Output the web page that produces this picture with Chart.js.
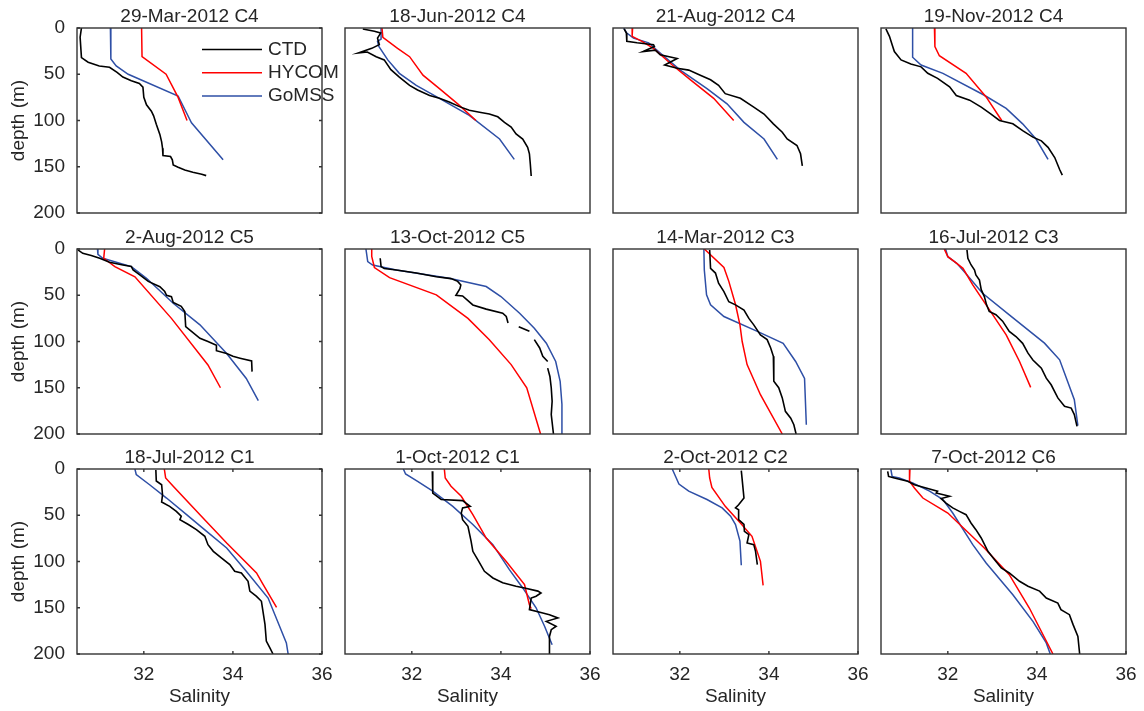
<!DOCTYPE html>
<html>
<head>
<meta charset="utf-8">
<script src="https://cdn.jsdelivr.net/npm/chart.js@4"></script>
<style>
  html, body { margin: 0; padding: 0; background: #fff; }
  #wrap { position: relative; width: 1144px; height: 711px; overflow: hidden; }
  #wrap canvas { position: absolute; }
</style>
</head>
<body>
<div id="wrap"></div>
<script>
const titles = ['29-Mar-2012 C4', '18-Jun-2012 C4', '21-Aug-2012 C4', '19-Nov-2012 C4',
                '2-Aug-2012 C5', '13-Oct-2012 C5', '14-Mar-2012 C3', '16-Jul-2012 C3',
                '18-Jul-2012 C1', '1-Oct-2012 C1', '2-Oct-2012 C2', '7-Oct-2012 C6'];
const xTicks = [32, 34, 36];
const yTicks = [0, 50, 100, 150, 200];
const seriesNames = ['CTD', 'HYCOM', 'GoMSS'];
const seriesColors = ['#000000', '#ff0000', '#2e4fa6'];

// [salinity, depth] pairs, null = gap in the cast
const ctd1 = [[30.6,0],[30.57,10],[30.6,32],[30.75,37],[31.0,41],[31.23,42.5],[31.4,48],[31.53,53],[31.72,57],[31.9,60],[31.98,64],[32.0,75],[32.06,83],[32.17,90],[32.22,95],[32.28,104],[32.36,115],[32.4,123],[32.42,130],[32.43,138],[32.6,139],[32.64,142.5],[32.66,148],[32.77,150.5],[32.92,153.5],[33.1,156],[33.3,158],[33.4,159.6]];
const hycom1 = [[31.95,0],[31.96,31],[32.5,50],[32.77,75],[32.97,100]];
const gomss1 = [[31.25,0],[31.26,33.5],[31.38,41],[31.65,50],[32.77,73.5],[33.07,102.5],[33.78,142.5]];

const ctd2 = [[30.9,1],[31.16,3.6],[31.3,5.5],[31.23,11],[31.27,18],[31.1,22],[30.8,27],[31.0,26],[31.2,31],[31.38,34.5],[31.53,45],[31.72,53],[31.95,62],[32.13,67],[32.4,73],[32.62,76],[32.84,80],[33.07,85],[33.29,89],[33.52,91],[33.74,93],[33.93,96],[34.08,102],[34.23,107],[34.34,114.5],[34.49,120],[34.6,129],[34.64,136],[34.66,147],[34.68,160]];
const hycom2 = [[31.33,0],[31.35,10],[31.68,22],[31.95,31],[32.25,51],[32.62,65.5],[33.03,82],[33.44,100]];
const gomss2 = [[31.31,0],[31.31,12],[31.23,14.5],[31.26,20],[31.46,34.5],[31.72,49],[32.1,62],[32.62,76],[33.29,94.5],[33.97,120],[34.3,142]];

const ctd3 = [[30.75,1],[30.8,5.5],[30.81,14.5],[31.04,16],[31.41,18],[31.43,20],[31.17,25.5],[31.45,24],[31.56,29],[31.94,33],[31.66,40],[31.94,43.6],[32.2,45.5],[32.46,51],[32.69,56],[32.87,62],[33.02,71],[33.36,76],[33.66,85.5],[33.89,93],[34.1,103.6],[34.3,112.7],[34.41,120],[34.63,127],[34.71,136],[34.75,149]];
const hycom3 = [[30.94,0],[30.93,9],[31.15,14.5],[31.41,22],[31.83,40],[32.24,56],[32.76,76],[33.21,100]];
const gomss3 = [[30.74,0],[30.81,5.5],[30.96,11],[31.3,16],[31.56,27],[32.01,45.5],[32.61,65.5],[33.06,82],[33.44,102],[33.89,120],[34.19,142]];

const ctd4 = [[30.61,1],[30.69,9],[30.75,18],[30.8,25.5],[30.95,34.5],[31.17,39],[31.4,42],[31.55,49],[31.77,54.5],[32.04,63.6],[32.19,73],[32.49,78],[32.75,85.5],[32.97,93],[33.16,100],[33.46,103.6],[33.68,111],[33.91,118],[34.1,122],[34.25,129],[34.4,140],[34.51,153],[34.57,159]];
const hycom4 = [[31.7,0],[31.71,20],[31.81,30],[32.41,49],[32.86,74.5],[33.21,100]];
const gomss4 = [[31.21,0],[31.21,31.6],[31.4,40],[31.89,49],[32.82,72.7],[33.31,87],[33.68,103.6],[33.98,120],[34.25,142]];

const ctd5 = [[30.52,1],[30.63,4.7],[30.82,7],[31.01,10],[31.23,14.4],[31.53,17.3],[31.72,19],[31.76,22.7],[31.91,28],[32.1,35],[32.36,40.7],[32.47,46],[32.51,50],[32.62,51.5],[32.66,57.7],[32.84,62],[32.92,67.7],[32.94,84],[33.07,89],[33.26,96.6],[33.44,100],[33.63,104],[33.63,110],[33.86,113],[34.0,116],[34.16,118],[34.42,121],[34.43,132.6]];
const hycom5 = [[31.12,0],[31.1,10],[31.35,19],[31.8,30],[32.62,75],[33.44,125.4],[33.72,150]];
const gomss5 = [[30.96,0],[30.97,5.8],[31.08,10],[31.72,19],[32.06,31.7],[32.66,58.7],[33.26,82],[33.86,113],[34.3,140],[34.57,164]];

const ctd6 = [[31.29,10],[31.31,19],[31.38,21],[31.65,22.7],[32.1,26],[32.55,30],[32.88,32],[33.03,35],[33.1,39],[33.08,43],[32.99,50],[33.14,50.7],[33.37,60.5],[33.67,65],[34.04,69.4],[34.12,73],[34.16,80],null,[34.4,84],[34.64,89],null,[34.75,98],[34.87,107],[34.94,116],[35.05,121.6],null,[35.05,128.8],[35.1,137.8],[35.13,150],[35.15,164.7],[35.13,179],[35.18,200]];
const hycom6 = [[31.1,0],[31.1,8],[31.16,20],[31.5,31],[32.55,49.6],[33.26,75],[33.74,98],[34.23,125],[34.58,150],[34.89,200]];
const gomss6 = [[30.97,0],[31.01,13.7],[31.12,17.3],[31.65,22.7],[32.84,31.7],[33.67,40.6],[34.0,51.4],[34.42,69.4],[34.75,85.6],[35.02,101.8],[35.23,121.6],[35.33,143],[35.37,168],[35.37,200]];

const ctd7 = [[32.67,1],[32.69,21],[32.8,26],[32.87,37],[32.99,46],[33.1,57],[33.25,60.4],[33.44,66],[33.55,75],[33.66,82],[33.81,93],[33.96,98],[34.04,107],[34.1,116],[34.11,143],[34.22,150],[34.3,161],[34.37,175.5],[34.49,183],[34.56,190],[34.61,200]];
const hycom7 = [[32.55,0],[32.99,20],[33.1,35],[33.25,60],[33.35,82],[33.4,100],[33.51,125],[33.81,157.5],[34.3,200]];
const gomss7 = [[32.54,0],[32.55,22.7],[32.6,49.6],[32.69,60.4],[32.99,73],[33.74,89],[34.32,102],[34.6,121.6],[34.8,140],[34.84,190]];

const ctd8 = [[32.43,1],[32.45,10],[32.52,17],[32.6,22.7],[32.63,28],[32.71,33.5],[32.75,44],[32.82,51.4],[32.87,60.4],[32.93,67.6],[33.08,71],[33.23,78],[33.38,89],[33.53,94.6],[33.68,102],[33.8,112.6],[33.91,120],[34.1,128.8],[34.21,139.6],[34.32,146.8],[34.47,161],[34.62,170],[34.77,172],[34.84,179],[34.9,191.7]];
const hycom8 = [[31.92,0],[32.0,8.3],[32.15,13.7],[32.34,20.9],[32.56,38.8],[32.86,60.4],[33.31,92.8],[33.61,121.6],[33.86,149.6]];
const gomss8 = [[31.95,0],[32.0,8.3],[32.2,15.5],[32.37,24.5],[32.78,47.8],[33.38,71.2],[34.17,101.8],[34.51,119.8],[34.84,163],[34.92,191]];

const ctd9 = [[32.27,1],[32.28,13],[32.4,17],[32.42,28],[32.4,35.7],[32.58,40.4],[32.73,45.8],[32.84,51],[32.81,54.8],[33.0,60],[33.18,65.6],[33.37,72.8],[33.44,81.8],[33.56,89],[33.74,96],[33.93,103.4],[34.04,110.6],[34.19,112.4],[34.34,121.4],[34.38,132],[34.53,137.7],[34.64,143],[34.72,168],[34.75,186],[34.83,193.5],[34.9,200]];
const hycom9 = [[32.46,0],[32.49,9.7],[32.66,18.7],[33.26,49.4],[33.86,80],[34.53,112.4],[34.68,125],[34.98,149.5]];
const gomss9 = [[31.8,0],[31.83,6],[32.13,17],[32.51,31.4],[32.96,49.4],[33.41,67.4],[33.86,85.4],[34.3,110.6],[34.79,139.5],[35.2,188],[35.24,200]];

const ctd10 = [[32.46,2.5],[32.47,26],[32.62,31.4],[32.66,33],[33.14,34.2],[33.31,40.4],[33.14,42],[33.11,47.6],[33.14,54.8],[33.26,62],[33.33,78],[33.37,89],[33.48,98],[33.63,110.6],[33.82,117.8],[34.04,123],[34.34,126.8],[34.53,128.6],[34.83,132],[34.9,134],[34.79,137.6],[34.68,139.5],[34.64,152],[34.94,155.7],[35.09,157.5],[35.28,161],[35.02,164.7],[35.24,170],[35.13,173.7],[35.09,181],[35.09,200]];
const hycom10 = [[32.73,0],[32.75,9.7],[32.88,18.7],[33.11,29.5],[33.37,49.4],[33.67,74.6],[34.12,100],[34.53,125],[34.64,146.7],[34.68,151]];
const gomss10 = [[31.81,0],[31.86,5.4],[32.13,13.3],[32.47,24],[32.92,40.4],[33.37,60],[33.82,81.8],[34.19,108.8],[34.49,128.6],[34.79,150],[34.98,170],[35.15,190]];

const ctd11 = [[33.38,1.8],[33.4,11.5],[33.44,31.4],[33.32,38.6],[33.25,42],[33.32,44],[33.32,54.8],[33.44,60],[33.45,67.4],[33.55,71],[33.51,80],[33.66,81.8],[33.7,89],[33.74,103.4]];
const hycom11 = [[32.65,0],[32.67,9.7],[32.72,19.8],[33.02,40.4],[33.36,58.4],[33.62,72.8],[33.81,99.8],[33.87,125.8]];
const gomss11 = [[31.83,0],[31.92,9.7],[31.98,16.2],[32.2,24],[32.61,33],[32.95,42],[33.14,51],[33.25,60],[33.35,78],[33.38,104]];

const ctd12 = [[30.65,2.5],[30.67,8],[30.8,9.7],[31.1,13.3],[31.25,17],[31.51,20.5],[31.77,24],[31.74,26],[32.04,29.5],[31.85,32],[31.96,36.8],[32.11,42],[32.26,45.8],[32.41,49.4],[32.52,58.4],[32.63,65.6],[32.75,74.6],[32.9,89],[33.05,98],[33.2,107],[33.38,112.4],[33.61,121.4],[33.8,126.8],[34.06,132],[34.21,139.5],[34.47,145],[34.54,152],[34.73,157.5],[34.81,168],[34.92,181],[34.96,200]];
const hycom12 = [[31.15,0],[31.14,13.3],[31.25,20.5],[31.44,31.4],[32.0,47.6],[32.82,85.4],[33.38,114.2],[33.83,150.3],[34.36,200]];
const gomss12 = [[30.72,0],[30.75,8],[30.91,9.7],[31.21,15],[31.59,24],[31.89,33],[32.11,47.6],[32.56,81.8],[32.86,101.6],[33.46,135.9],[33.91,164.7],[34.21,188],[34.3,200]];

const ctd = [ctd1, ctd2, ctd3, ctd4, ctd5, ctd6, ctd7, ctd8, ctd9, ctd10, ctd11, ctd12];
const hycom = [hycom1, hycom2, hycom3, hycom4, hycom5, hycom6, hycom7, hycom8, hycom9, hycom10, hycom11, hycom12];
const gomss = [gomss1, gomss2, gomss3, gomss4, gomss5, gomss6, gomss7, gomss8, gomss9, gomss10, gomss11, gomss12];

// panel geometry
const plotLefts = [77, 345, 613, 881];
const plotTops = [28, 249, 469];
const canvasW = 352, canvasH = 272;

Chart.defaults.font.family = "'Liberation Sans', Arial, Helvetica, sans-serif";
Chart.defaults.font.size = 19;
Chart.defaults.color = '#262626';

const toPoint = p => p ? { x: p[0], y: p[1] } : { x: null, y: null };

// box, inward ticks and the inset legend
const frame = {
  id: 'frame',
  afterDatasetsDraw(chart, args, opts) {
    const { ctx, chartArea: a, scales } = chart;
    ctx.save();
    ctx.strokeStyle = '#333';
    ctx.lineWidth = 1.4;
    ctx.strokeRect(a.left, a.top, a.right - a.left, a.bottom - a.top);
    ctx.beginPath();
    if (opts.yTicks) {
      yTicks.forEach(v => {
        const p = scales.y.getPixelForValue(v);
        ctx.moveTo(a.left, p); ctx.lineTo(a.left + 3, p);
        ctx.moveTo(a.right, p); ctx.lineTo(a.right - 3, p);
      });
    }
    if (opts.xTicks) {
      xTicks.forEach(v => {
        const p = scales.x.getPixelForValue(v);
        ctx.moveTo(p, a.bottom); ctx.lineTo(p, a.bottom - 3);
        ctx.moveTo(p, a.top); ctx.lineTo(p, a.top + 3);
      });
    }
    ctx.stroke();
    if (opts.legend) {
      ctx.font = "19px 'Liberation Sans', Arial, sans-serif";
      ctx.textBaseline = 'middle';
      chart.data.datasets.forEach((ds, k) => {
        const y = a.top + 21.5 + k * 23.3;
        ctx.strokeStyle = ds.borderColor;
        ctx.lineWidth = ds.borderWidth;
        ctx.beginPath();
        ctx.moveTo(a.left + 125, y);
        ctx.lineTo(a.left + 185, y);
        ctx.stroke();
        ctx.fillStyle = '#262626';
        ctx.fillText(ds.label, a.left + 191, y);
      });
    }
    ctx.restore();
  }
};

const wrap = document.getElementById('wrap');

titles.forEach((title, i) => {
  const r = Math.floor(i / 4), c = i % 4;
  const cv = document.createElement('canvas');
  cv.width = canvasW;
  cv.height = canvasH;
  cv.style.left = (plotLefts[c] - 77) + 'px';
  cv.style.top = (plotTops[r] - 30) + 'px';
  cv.style.width = canvasW + 'px';
  cv.style.height = canvasH + 'px';
  wrap.appendChild(cv);

  const series = [ctd[i], hycom[i], gomss[i]];

  new Chart(cv, {
    type: 'line',
    data: {
      datasets: series.map((arr, k) => ({
        label: seriesNames[k],
        data: arr.map(toPoint),
        borderColor: seriesColors[k],
        borderWidth: k === 0 ? 1.6 : 1.5,
        pointRadius: 0,
        tension: 0,
        spanGaps: false,
        fill: false
      }))
    },
    options: {
      responsive: false,
      animation: false,
      events: [],
      // title is centred over the padded width, which puts it ~10px left of the plot centre
      layout: { padding: { left: 57, right: 30, top: 7, bottom: 3 } },
      plugins: {
        legend: { display: false },
        tooltip: { enabled: false },
        title: {
          display: true,
          text: title,
          color: '#262626',
          font: { size: 19, weight: 'normal' },
          padding: { top: 0, bottom: 0.2 }
        },
        frame: { yTicks: c === 0, xTicks: r === 2, legend: i === 0 }
      },
      scales: {
        x: {
          type: 'linear',
          position: 'bottom',
          min: 30.5,
          max: 36,
          afterBuildTicks: s => { s.ticks = xTicks.map(v => ({ value: v })); },
          afterFit: s => { s.height = 54; },
          grid: { display: false, drawTicks: false },
          border: { display: false },
          ticks: { display: r === 2, padding: 9, maxRotation: 0, autoSkip: false },
          title: { display: r === 2, text: 'Salinity', padding: 0 }
        },
        y: {
          type: 'linear',
          reverse: true,
          min: 0,
          max: 200,
          afterBuildTicks: s => { s.ticks = yTicks.map(v => ({ value: v })); },
          afterFit: s => { s.width = 20; },
          grid: { display: false, drawTicks: false },
          border: { display: false },
          // mirrored labels are not clipped to the narrow axis box; pulled back left of the plot
          ticks: { display: c === 0, mirror: true, crossAlign: 'far', padding: -43.7, autoSkip: false },
          title: { display: c === 0, text: 'depth (m)', padding: { top: -50, bottom: 0 } }
        }
      }
    },
    plugins: [frame]
  });
});
</script>
</body>
</html>
